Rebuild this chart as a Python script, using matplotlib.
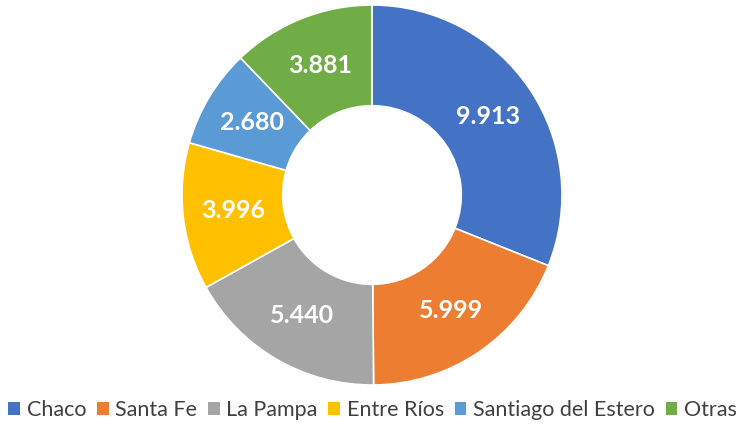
import matplotlib
matplotlib.use("Agg")
import matplotlib.pyplot as plt
from matplotlib.patches import Patch
import numpy as np

categories = ["Chaco", "Santa Fe", "La Pampa", "Entre Ríos", "Santiago del Estero", "Otras"]
values = [9.913, 5.999, 5.440, 3.996, 2.680, 3.881]
labels = ["9.913", "5.999", "5.440", "3.996", "2.680", "3.881"]
colors = ["#4472C4", "#ED7D31", "#A5A5A5", "#FFC000", "#5B9BD5", "#70AD47"]

plt.rcParams['font.family'] = ['Lato', 'DejaVu Sans']

W, H = 745, 424
fig = plt.figure(figsize=(W/100, H/100), dpi=100)
cx, cy, R = 372, 195, 190
ax = fig.add_axes([(cx-R)/W, (H-cy-R)/H, 2*R/W, 2*R/H])
wedges, _ = ax.pie(values, colors=colors, startangle=90, counterclock=False,
                   radius=1, wedgeprops=dict(width=0.53, edgecolor='white', linewidth=1.2))
total = sum(values)
ang = 90.0
for v, lab in zip(values, labels):
    sweep = 360.0 * v / total
    mid = np.deg2rad(ang - sweep/2)
    r = 0.735
    ax.text(r*np.cos(mid), r*np.sin(mid), lab, ha='center', va='center',
            color='white', fontsize=18, fontweight='bold')
    ang -= sweep
ax.set_xlim(-1, 1)
ax.set_ylim(-1, 1)
ax.set_aspect('equal')
ax.axis('off')

handles = [Patch(facecolor=c, edgecolor='none') for c in colors]
fig.legend(handles, categories, loc='center', bbox_to_anchor=(0.5, (H-410)/H),
           ncol=6, frameon=False, fontsize=15.5, handlelength=0.55, handleheight=0.55,
           handletextpad=0.3, columnspacing=0.5, labelcolor='#404040')
fig.savefig("out.png", dpi=100)
